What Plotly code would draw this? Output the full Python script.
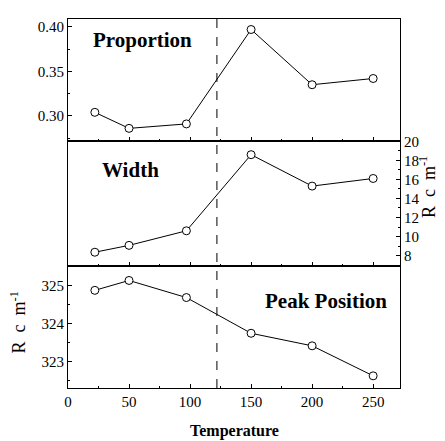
import plotly.graph_objects as go
from plotly.subplots import make_subplots

temperature = [22, 50, 97, 150, 200, 250]
proportion = [0.304, 0.286, 0.291, 0.397, 0.335, 0.342]
width = [8.35, 9.07, 10.6, 18.6, 15.3, 16.1]
peak_position = [324.87, 325.13, 324.68, 323.74, 323.41, 322.62]
transition_temp = 122

x_ticks = [0, 50, 100, 150, 200, 250]
prop_ticks = [0.30, 0.35, 0.40]
width_ticks = [8, 10, 12, 14, 16, 18, 20]
peak_ticks = [323, 324, 325]

SERIF = "Liberation Serif"

fig = make_subplots(rows=3, cols=1, shared_xaxes=True, vertical_spacing=0,
                    row_heights=[0.3316, 0.3368, 0.3316])

for i, ys in enumerate([proportion, width, peak_position]):
    fig.add_trace(go.Scatter(x=temperature, y=ys, mode="lines+markers",
                             line=dict(color="black", width=1),
                             marker=dict(symbol="circle", size=8, color="white",
                                         line=dict(width=1, color="black")),
                             showlegend=False), row=i + 1, col=1)

axis_common = dict(showline=True, linecolor="black", linewidth=1, mirror=True,
                   ticks="inside", tickcolor="black", ticklen=4, showgrid=False,
                   zeroline=False, tickfont=dict(family=SERIF, size=15, color="black"))

for r in (1, 2, 3):
    fig.update_xaxes(range=[0, 272], tickvals=x_ticks, row=r, col=1,
                     minor=dict(ticks="inside", ticklen=2, dtick=25, tickcolor="black"),
                     **axis_common)
fig.update_xaxes(ticktext=[str(v) for v in x_ticks], showticklabels=True, row=3, col=1)

fig.update_yaxes(range=[0.2714, 0.4088], tickvals=prop_ticks,
                 ticktext=["%.2f" % v for v in prop_ticks],
                 minor=dict(ticks="inside", ticklen=2, dtick=0.025, tickcolor="black"),
                 row=1, col=1, **axis_common)
fig.update_yaxes(range=[6.94, 20.0], tickvals=width_ticks, side="right",
                 minor=dict(ticks="inside", ticklen=2, dtick=1, tickcolor="black"),
                 row=2, col=1, **axis_common)
fig.update_yaxes(range=[322.30, 325.52], tickvals=peak_ticks,
                 minor=dict(ticks="inside", ticklen=2, dtick=0.5, tickcolor="black"),
                 row=3, col=1, **axis_common)

fig.add_shape(type="line", x0=transition_temp, x1=transition_temp, y0=0, y1=1,
              xref="x", yref="paper", line=dict(color="black", width=1, dash="dash"))

lab_font = dict(family=SERIF, size=21, color="black")
fig.add_annotation(text="<b>Proportion</b>", xref="paper", yref="paper", x=0.07, y=0.942,
                   xanchor="left", yanchor="middle", showarrow=False, font=lab_font)
fig.add_annotation(text="<b>Width</b>", xref="paper", yref="paper", x=0.096, y=0.591,
                   xanchor="left", yanchor="middle", showarrow=False, font=lab_font)
fig.add_annotation(text="<b>Peak Position</b>", xref="paper", yref="paper", x=0.966, y=0.236,
                   xanchor="right", yanchor="middle", showarrow=False, font=lab_font)

unit = "R\u00a0 c\u00a0 m<sup>-1</sup>"
title_font = dict(family=SERIF, size=18, color="black")
fig.add_annotation(text=unit, xref="paper", yref="paper", x=1.085, y=0.545,
                   xanchor="center", yanchor="middle", textangle=-90, showarrow=False,
                   font=title_font)
fig.add_annotation(text=unit, xref="paper", yref="paper", x=-0.15, y=0.178,
                   xanchor="center", yanchor="middle", textangle=-90, showarrow=False,
                   font=title_font)
fig.add_annotation(text="<b>Temperature</b>", xref="paper", yref="paper", x=0.5, y=-0.117,
                   xanchor="center", yanchor="middle", showarrow=False,
                   font=dict(family=SERIF, size=16, color="black"))

# body has an 8px margin in the page, so shift margins to compensate
fig.update_layout(width=437, height=433, margin=dict(l=60, r=45, t=3, b=53),
                  plot_bgcolor="white", paper_bgcolor="white")

fig.write_html("out.html")
